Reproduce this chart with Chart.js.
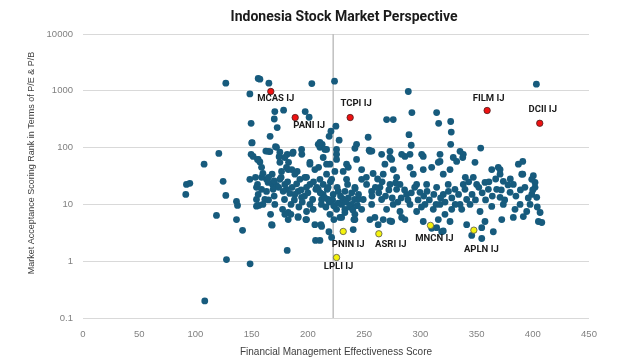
<!DOCTYPE html>
<html>
<head>
<meta charset="utf-8">
<script src="https://cdn.jsdelivr.net/npm/chart.js@4"></script>
<style>
  html, body { margin: 0; padding: 0; background: #ffffff; }
  #wrap { width: 640px; height: 360px; position: relative; }
</style>
</head>
<body>
<div id="wrap"><canvas id="c" width="640" height="360"></canvas></div>
<script>
// ---------- DATA ----------
const chartTitle = 'Indonesia Stock Market Perspective';
const xAxisTitle = 'Financial Management Effectiveness Score';
const yAxisTitle = 'Market Acceptance Scoring Rank in Terms of P/E & P/B';

const yTickValues = [0.1, 1, 10, 100, 1000, 10000];
const xMin = 0, xMax = 450, xStep = 50;
const referenceLineX = [222.5];

// highlighted (red) stocks
const redNames = ['MCAS IJ', 'PANI IJ', 'TCPI IJ', 'FILM IJ', 'DCII IJ'];
const redX = [167, 188.7, 237.6, 359.4, 406.2];
const redY = [973, 338, 338, 450, 268];

// highlighted (yellow) stocks
const yellowNames = ['PNIN IJ', 'LPLI IJ', 'ASRI IJ', 'MNCN IJ', 'APLN IJ'];
const yellowX = [231.4, 225.5, 263.1, 309, 347.6];
const yellowY = [3.34, 1.16, 3.04, 4.27, 3.52];

// all other stocks: [score, rank]
const otherStocks = [
  [127,1361],[155.8,1648],[157.3,1603],[165.3,1361],[148.4,882],[203.5,1343],[223.7,1476],[403.2,1306],[289.3,972],
  [170.6,431],[178.4,455],[197.6,431],[201.1,342],[170.1,319],[149.5,268],[172.7,225],[224.9,238],[220.5,194],[218.9,158],[166.4,158],[227.8,135],[150.1,121],[171.2,104],
  [270,312],[275.9,312],[292.5,414],[314.5,414],[316.3,268],[327,288],[327.5,188],[327,114],[289.9,169],[291.9,110],[253.6,152],[243.3,114],[241.8,97],[254.5,90],[256.9,87],[353.7,98],
  [265.6,76],[273,86],[274.5,62],[286.3,70],[290.8,76],[302.6,70],[317.5,57],[329.3,67],[338.2,76],[348.6,55],[370.9,41],[387.2,51],[391.1,57],[390.2,34],[400.5,32],[402,24.4],
  [150.4,122],[172.1,101],[162.6,87],[166.2,85],[120.8,79],[149.5,76],[151.3,70],[155.2,62],[157.3,56],[174.4,69],[181.6,76],[186.4,79],[194.6,76],[182.8,55],[175.1,55],[107.7,51],
  [209.2,114],[210.7,101],[212.7,114],[216.6,93],[225.5,76],[219.6,51],[201.8,51],[209.5,45],[185.7,41],[181,45],[176.6,38],
  [176.2,30],[168.2,34],[153.4,30],[148.4,27.6],[155.2,22.5],[154.3,20],[124.6,25.5],[92,22.5],[95,23.5],[91.4,15],[127,14.4],[136.5,11.3],[137.4,9.6],[154.3,12.2],[156.4,9.6],
  [158.8,18.4],[163.2,27.6],[163.2,16.9],[168.6,22.5],[172.1,21.6],[175.1,27.6],[181,18.4],[179.2,12.2],[184,15.6],[177.5,8.2],[182.5,7.2],[184.9,6.7],[166.8,6.7],[168.2,4.3],
  [190.5,38],[192.9,27.6],[191.3,16.9],[197.3,30],[198.8,20],[204.2,12.2],[198.8,7.5],[191.3,5.9],[198.2,5.4],[201.8,10],[204.7,8.2],
  [210.7,27.6],[213.6,22.5],[217.2,18.4],[222.5,15],[216.6,34],[207.1,18.4],[212.2,12.2],[219.6,6.7],[223.1,5.4],[225.5,8.2],[228.5,5.9],[232.9,7.2],[211.6,4.4],[218.7,3.3],[221.1,2.62],[206.8,2.32],[210.7,2.32],[181.6,1.55],
  [118.7,6.4],[136.5,5.4],[141.9,3.5],[127.6,1.07],[148.6,0.9],[108.3,0.2],
  [235.3,22.5],[241.5,12.2],[241.8,5.4],[231.4,38],[234.4,51],[154.3,9.3],
  [164.6,86],[155.8,62],[158.8,45],[175.1,83],[179.5,67],[186.9,83],[194.4,93],[210.7,124],[215.1,93],[213.6,67],[225.5,93],[225.5,62],[243.3,62],[247.8,41],[235.9,45],[234.4,27.6],[241.8,20],
  [201.8,55],[206.2,41],[198.8,30],[201.8,22.5],[182.5,41],[188.4,34],[179.5,22.5],[158.8,30],[164.6,24.4],[169.1,18.4],[155.8,15],[161.7,12.2],[170.6,10],[188.4,15],[194.4,13.3],
  [209.2,18.4],[213.6,15],[218,12.2],[227,16.9],[230,10],[232.9,8.2],[238.9,10],[244.7,12.2],[241.8,6.7],[247.8,8.2],[221.1,27.6],[224,38],[216.6,51],[179.5,6.7],[182.5,5.4],[191.3,6.1],[198.8,5.4],[206.2,4.4],[167.7,4.4],[212.2,4.1],[230,5.9],[240.3,3.6],
  [255.2,86],[273,67],[283.4,76],[301.2,76],[317.5,76],[316,55],[335.3,86],[332.3,57],[268.5,51],[267,34],[275.9,41],[278.9,30],[290.8,45],[293.7,34],[302.6,41],[310.1,45],[320.4,34],[326.4,41],
  [247.8,27.6],[252.2,22.5],[256.7,16.9],[264.1,20],[273,22.5],[278.9,18.4],[281.9,22.5],[287.8,15],[296.7,22.5],[299.7,16.3],[305.6,22.5],[314.5,20],[320.4,15],[324.8,22.5],[330.8,18.4],[338.2,22.5],
  [249.2,12.2],[256.7,10],[265.6,12.2],[270,8.2],[275.9,10],[281.9,7.5],[286.3,5.4],[290.8,10],[296.7,7.5],[304.1,10],[311.5,8.2],[317.5,10],[321.9,6.7],[327.9,8.2],[335.3,10],
  [259.6,5.9],[267,5.4],[274.5,5.0],[283.4,5.9],[302.6,5.0],[316,5.4],[326.4,5.0],[310.1,3.8],[319,3.3],
  [337.7,67],[363.5,41],[369.3,45],[370.9,34],[373.8,25.5],[391.1,34],[347.1,30],[350.1,22.5],[357.5,24.4],[360.5,18.4],[339.7,18.4],[341.2,12.2],[367.9,18.4],[370.9,13.3],[379.8,16.3],[382.7,22.5],
  [399.1,27.6],[402,20],[399.1,15],[403.5,13.3],[397.6,10],[336.8,8.2],[344.2,10],[353.1,7.5],[363.5,9.2],[373.8,10],[384.2,8.2],[388.7,10],[394.6,7.5],[406.5,7.2],[405,5.0],[408,4.8],
  [357.5,5.0],[372.4,5.4],[382.7,5.9],[391.6,6.1],[341.2,4.4],[354.6,3.9],[364.9,3.3],[345.7,2.84],[354.6,2.51],
  [240.9,5.4],[255.2,5.4],[262.5,4.4],[273,5.1],[314.5,3.9],[320.4,3.4],
  [205,25],[208,20],[211,16],[215,13],[218,20],[220,25],[222,12],[226,20],[229,14],[233,17],[236,13],[239,16],[242,19],[245,15],
  [212,10],[216,9],[219,11],[223,9.5],[227,10.5],[231,12.5],[234,11],[237,9],[240,8],[244,9.5],
  [283,13],[286,18],[289,12],[292,16],[295,20],[298,12],[301,9],[303,14],[306,17],[308,12],[312,15],[314,10],[318,13],[322,11],[325,17],[328,13],[331,10],[334,15],
  [257,14],[260,20],[263,16],[266,25],[269,14],[272,18],[275,13],[278,24],[280,11],[252,30],[258,35],[262,28],
  [340,30],[343,25],[346,15],[349,12],[352,20],[355,16],[358,12],[361,25],[364,14],[367,28],[372,18],[375,12],[378,22],[380,28],[385,14],[389,18],[393,20],[396,13],[400,18],[404,9],
  [160,35],[165,30],[170,26],[174,20],[178,17],[182,25],[186,20],[190,23],[194,18],[197,14],[200,16],[185,10],[188,12],[192,9],[195,11],[170,14],[165,12],[160,10]
];

// ---------- STYLE ----------
const labelOffsets = {
  'MCAS IJ': [5, 7], 'PANI IJ': [14, 8], 'TCPI IJ': [6, -14], 'FILM IJ': [1.5, -12], 'DCII IJ': [3, -14],
  'PNIN IJ': [5, 13], 'LPLI IJ': [2, 9], 'ASRI IJ': [12, 11], 'MNCN IJ': [4, 13], 'APLN IJ': [7.5, 19]
};

const toPts = (xs, ys) => xs.map((x, i) => ({ x: x, y: ys[i] }));

const annotatePlugin = {
  id: 'annotate',
  afterDatasetsDraw(chart) {
    const ctx = chart.ctx;
    ctx.save();
    ctx.font = 'bold 9.5px Roboto';
    ctx.fillStyle = '#1a1a1a';
    ctx.textAlign = 'center';
    ctx.textBaseline = 'middle';
    [[1, redNames], [2, yellowNames]].forEach(([dsIndex, names]) => {
      const meta = chart.getDatasetMeta(dsIndex);
      meta.data.forEach((el, i) => {
        const off = labelOffsets[names[i]] || [0, 0];
        ctx.fillText(names[i], el.x + off[0], el.y + off[1]);
      });
    });
    ctx.restore();
  },
  afterDraw(chart) {
    const ctx = chart.ctx;
    ctx.save();
    ctx.fillStyle = '#1a1a1a';
    ctx.font = 'bold 14px Roboto';
    ctx.textAlign = 'center';
    ctx.textBaseline = 'middle';
    ctx.fillText(chartTitle, 344, 17);
    ctx.fillStyle = '#404040';
    ctx.font = '9px "Liberation Sans"';
    ctx.translate(31.5, 163);
    ctx.rotate(-Math.PI / 2);
    ctx.fillText(yAxisTitle, 0, 0);
    ctx.restore();
  }
};

new Chart(document.getElementById('c'), {
  type: 'scatter',
  data: {
    datasets: [
      {
        label: 'Other',
        data: otherStocks.map(p => ({ x: p[0], y: p[1] })),
        backgroundColor: '#175b7d',
        borderColor: '#175b7d',
        borderWidth: 0,
        pointRadius: 3.4,
        order: 2
      },
      {
        label: 'Red',
        data: toPts(redX, redY),
        backgroundColor: '#ee1111',
        borderColor: '#4a2020',
        borderWidth: 0.8,
        pointRadius: 3.2,
        order: 0
      },
      {
        label: 'Yellow',
        data: toPts(yellowX, yellowY),
        backgroundColor: '#f4f20c',
        borderColor: '#555555',
        borderWidth: 0.8,
        pointRadius: 3.2,
        order: 1
      },
      {
        type: 'line',
        label: 'Reference',
        data: [{ x: referenceLineX[0], y: yTickValues[0] }, { x: referenceLineX[0], y: yTickValues[yTickValues.length - 1] }],
        borderColor: '#bfbfbf',
        borderWidth: 1.5,
        pointRadius: 0,
        showLine: true,
        fill: false,
        order: 3
      }
    ]
  },
  options: {
    responsive: false,
    animation: false,
    layout: { padding: { top: 34, right: 51, bottom: 0, left: 0 } },
    plugins: {
      legend: { display: false },
      tooltip: { enabled: false },
      title: { display: false }
    },
    scales: {
      x: {
        type: 'linear',
        min: xMin, max: xMax,
        ticks: { stepSize: xStep, color: '#808080', font: { family: '"Liberation Sans"', size: 9.5 }, padding: 11 },
        grid: { display: false, drawTicks: false },
        border: { display: false },
        title: { display: true, text: xAxisTitle, color: '#404040', font: { family: '"Liberation Sans"', size: 10 }, padding: { top: 0, bottom: 2 } },
        afterFit(scale) { scale.height = 42; }
      },
      y: {
        type: 'logarithmic',
        min: yTickValues[0], max: yTickValues[yTickValues.length - 1],
        afterBuildTicks(scale) { scale.ticks = yTickValues.map(v => ({ value: v })); },
        ticks: {
          color: '#808080', font: { family: '"Liberation Sans"', size: 9.5 }, padding: 10,
          callback: (v) => String(v)
        },
        grid: { color: '#d9d9d9', lineWidth: 1, drawTicks: false },
        border: { display: false },
        afterFit(scale) { scale.width = 83; }
      }
    }
  },
  plugins: [annotatePlugin]
});
</script>
</body>
</html>
